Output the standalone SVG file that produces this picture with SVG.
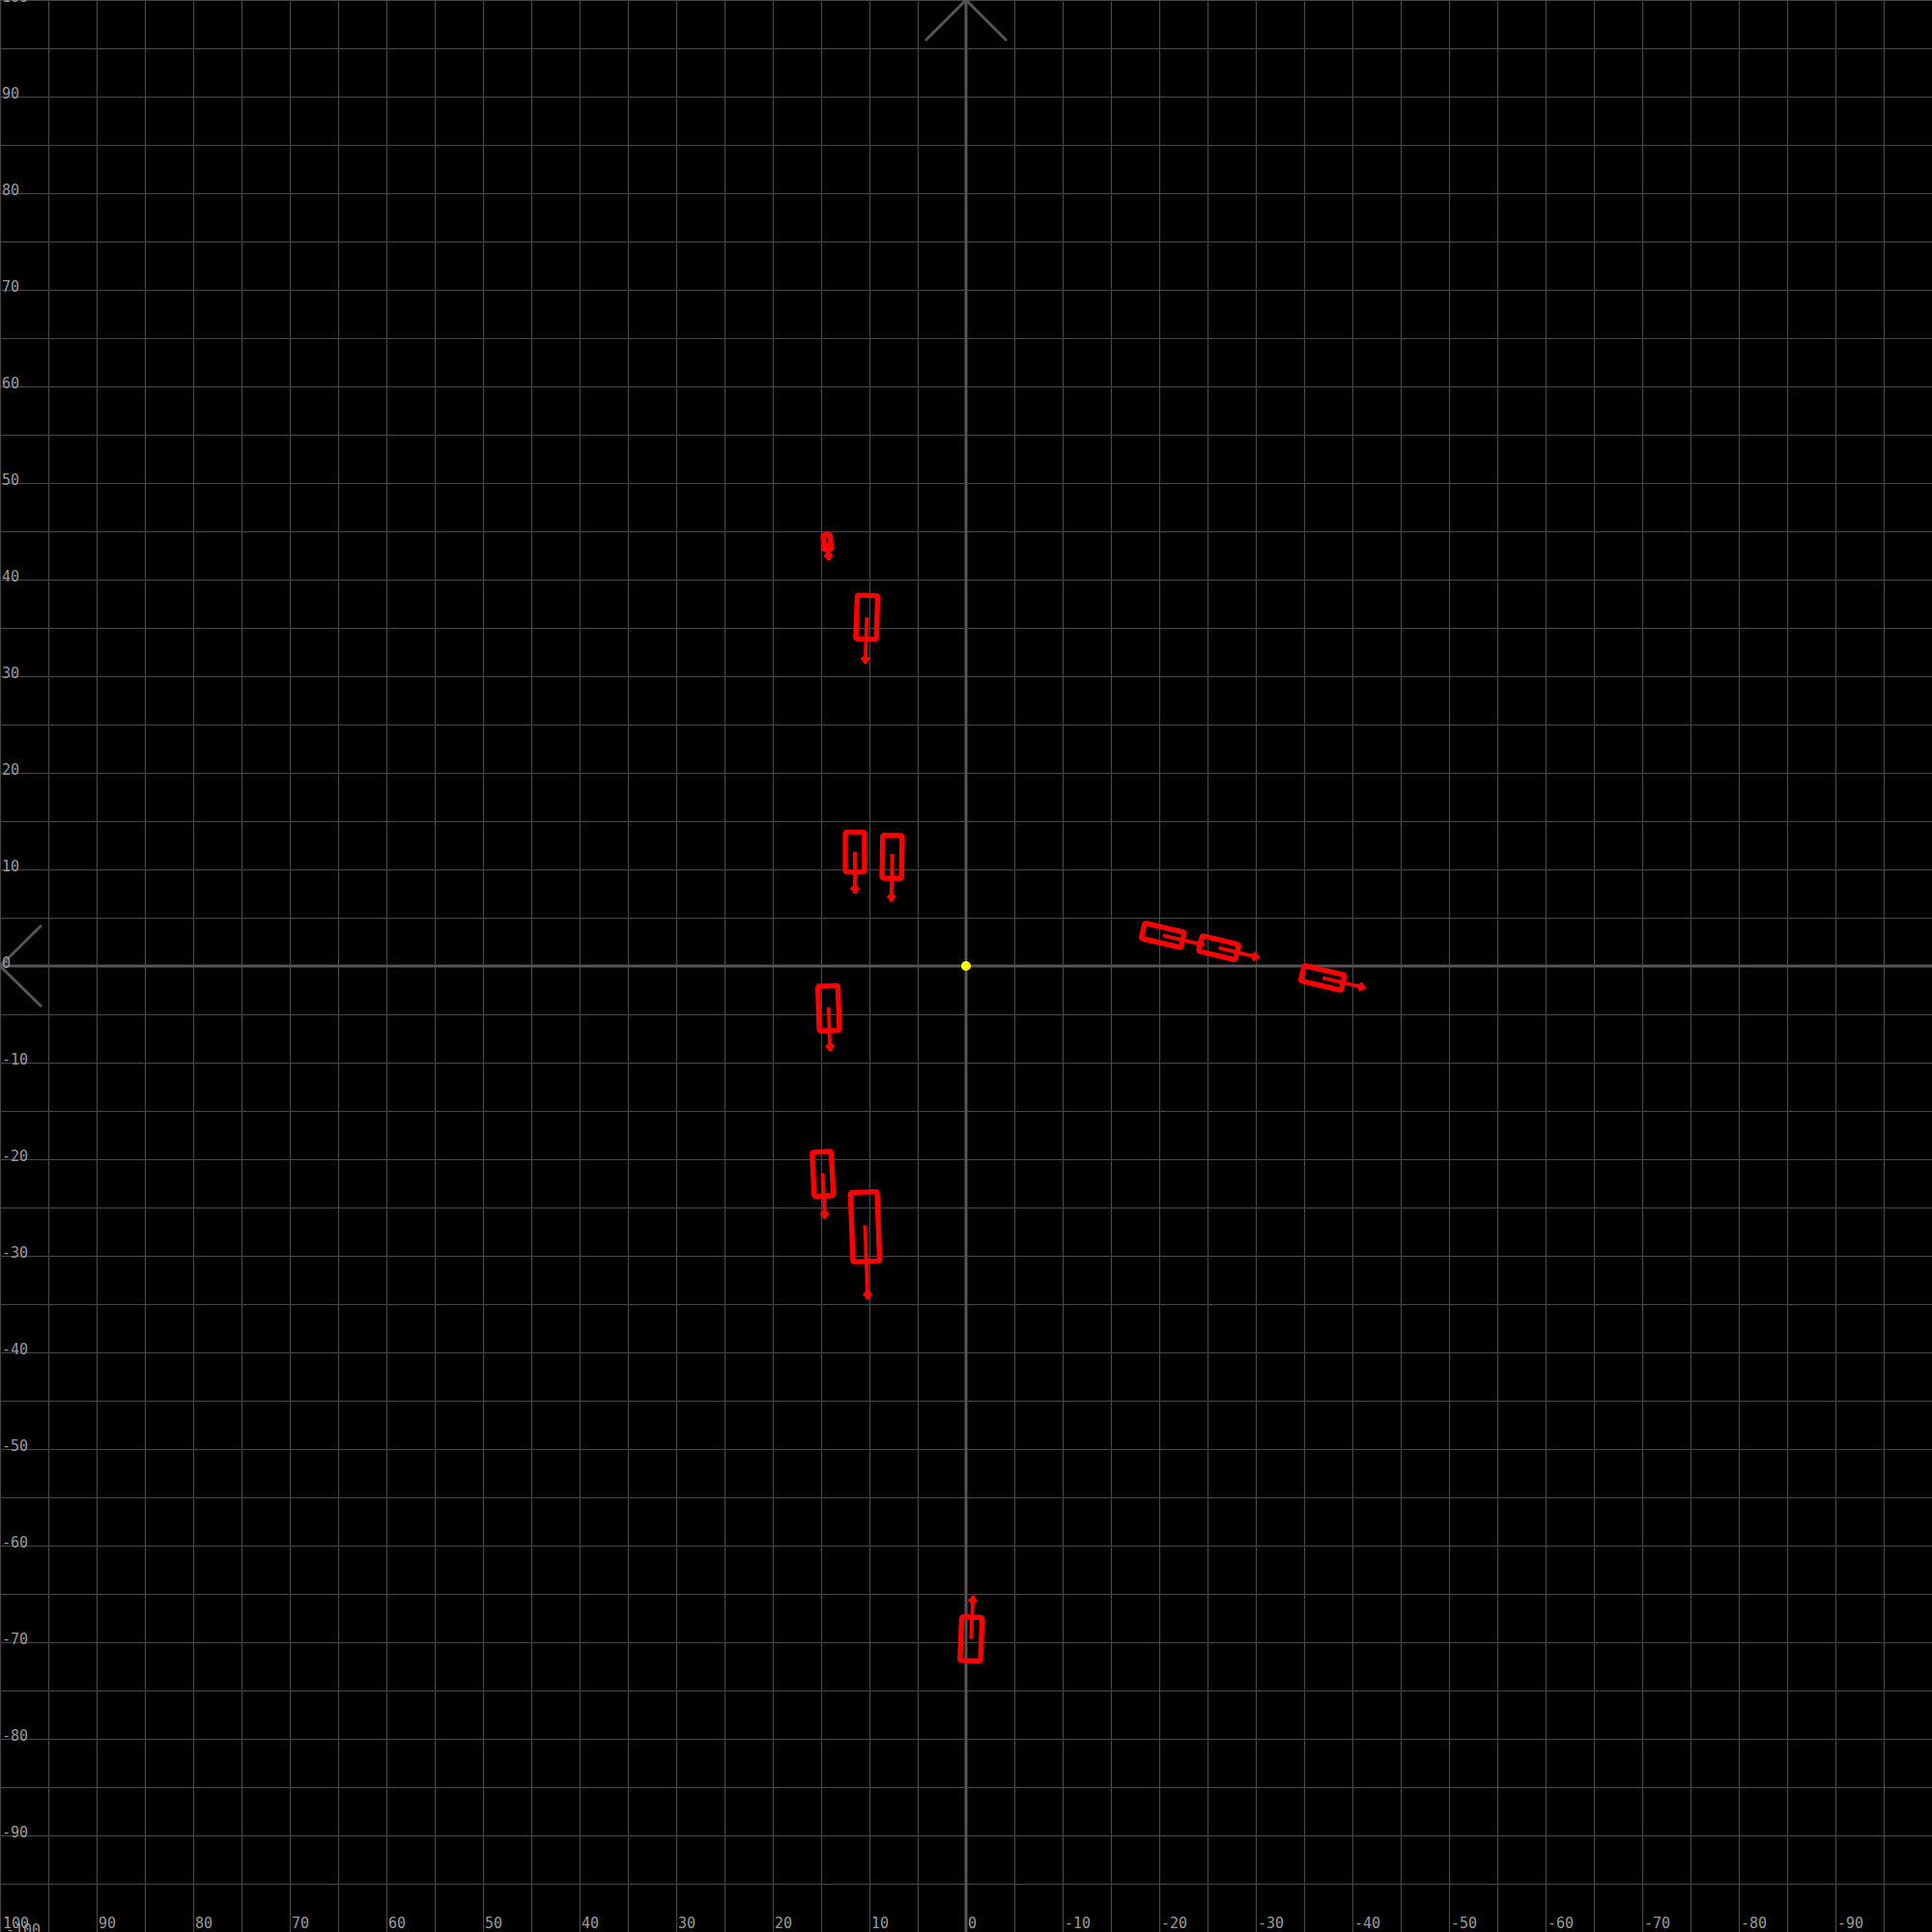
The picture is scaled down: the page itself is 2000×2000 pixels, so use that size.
<svg xmlns="http://www.w3.org/2000/svg" width="2000" height="2000" viewBox="0 0 2000 2000">
<style>
.grid{stroke:#464646;stroke-width:1.2;fill:none}
.axis{stroke:#555;stroke-width:3;fill:none}
.lbl{font-family:"DejaVu Sans Mono","Liberation Mono",monospace;font-size:15px;fill:#9a9a9a}
.box{fill:none;stroke:#f00;stroke-width:5.4;stroke-linejoin:round}
.hd{stroke:#f00;stroke-width:3.8;stroke-linecap:butt;marker-end:url(#dia)}
</style>
<defs>
<marker id="dia" viewBox="-12 -6 13 12" refX="0" refY="0" markerWidth="13" markerHeight="12" markerUnits="userSpaceOnUse" orient="auto">
<path d="M0 0L-5 -5.2L-10 0L-5 5.2Z" fill="#f00"/>
</marker>
</defs>
<rect x="0" y="0" width="2000" height="2000" fill="#000"/>
<g id="grid">
<path class="grid" d="M0.5 0V2000M50.5 0V2000M100.5 0V2000M150.5 0V2000M200.5 0V2000M250.5 0V2000M300.5 0V2000M350.5 0V2000M400.5 0V2000M450.5 0V2000M500.5 0V2000M550.5 0V2000M600.5 0V2000M650.5 0V2000M700.5 0V2000M750.5 0V2000M800.5 0V2000M850.5 0V2000M900.5 0V2000M950.5 0V2000M1050.5 0V2000M1100.5 0V2000M1150.5 0V2000M1200.5 0V2000M1250.5 0V2000M1300.5 0V2000M1350.5 0V2000M1400.5 0V2000M1450.5 0V2000M1500.5 0V2000M1550.5 0V2000M1600.5 0V2000M1650.5 0V2000M1700.5 0V2000M1750.5 0V2000M1800.5 0V2000M1850.5 0V2000M1900.5 0V2000M1950.5 0V2000M0 0.5H2000M0 50.5H2000M0 100.5H2000M0 150.5H2000M0 200.5H2000M0 250.5H2000M0 300.5H2000M0 350.5H2000M0 400.5H2000M0 450.5H2000M0 500.5H2000M0 550.5H2000M0 600.5H2000M0 650.5H2000M0 700.5H2000M0 750.5H2000M0 800.5H2000M0 850.5H2000M0 900.5H2000M0 950.5H2000M0 1050.5H2000M0 1100.5H2000M0 1150.5H2000M0 1200.5H2000M0 1250.5H2000M0 1300.5H2000M0 1350.5H2000M0 1400.5H2000M0 1450.5H2000M0 1500.5H2000M0 1550.5H2000M0 1600.5H2000M0 1650.5H2000M0 1700.5H2000M0 1750.5H2000M0 1800.5H2000M0 1850.5H2000M0 1900.5H2000M0 1950.5H2000"/>
</g>
<g id="axes">
<path class="axis" d="M1000 0V2000M0 1000H2000"/>
<path class="axis" d="M958 42L1000 0L1042 42"/>
<path class="axis" d="M43 958L0 1000L43 1042"/>
</g>
<g id="y-labels" class="lbl">
<text x="2" y="2">100</text>
<text x="2" y="102">90</text>
<text x="2" y="202">80</text>
<text x="2" y="302">70</text>
<text x="2" y="402">60</text>
<text x="2" y="502">50</text>
<text x="2" y="602">40</text>
<text x="2" y="702">30</text>
<text x="2" y="802">20</text>
<text x="2" y="902">10</text>
<text x="2" y="1002">0</text>
<text x="2" y="1102">-10</text>
<text x="2" y="1202">-20</text>
<text x="2" y="1302">-30</text>
<text x="2" y="1402">-40</text>
<text x="2" y="1502">-50</text>
<text x="2" y="1602">-60</text>
<text x="2" y="1702">-70</text>
<text x="2" y="1802">-80</text>
<text x="2" y="1902">-90</text>
<text x="6" y="2003">-100</text>
</g>
<g id="x-labels" class="lbl">
<text x="3" y="1996">100</text>
<text x="102" y="1996">90</text>
<text x="202" y="1996">80</text>
<text x="302" y="1996">70</text>
<text x="402" y="1996">60</text>
<text x="502" y="1996">50</text>
<text x="602" y="1996">40</text>
<text x="702" y="1996">30</text>
<text x="802" y="1996">20</text>
<text x="902" y="1996">10</text>
<text x="1002" y="1996">0</text>
<text x="1102" y="1996">-10</text>
<text x="1202" y="1996">-20</text>
<text x="1302" y="1996">-30</text>
<text x="1402" y="1996">-40</text>
<text x="1502" y="1996">-50</text>
<text x="1602" y="1996">-60</text>
<text x="1702" y="1996">-70</text>
<text x="1802" y="1996">-80</text>
<text x="1902" y="1996">-90</text>
</g>
<circle id="origin" cx="1000" cy="1000" r="5" fill="#ff0"/>
<g id="v1" transform="translate(856.3 561.3) rotate(-5)"><rect class="box" x="-3.7" y="-7.7" width="7.4" height="15.4" rx="1.5"/><line class="hd" x1="0" y1="0" x2="0" y2="19"/></g>
<g id="v2" transform="translate(897.3 639) rotate(2)"><rect class="box" x="-10.6" y="-22.6" width="21.2" height="45.2" rx="1.5"/><line class="hd" x1="0" y1="0" x2="0" y2="48"/></g>
<g id="v3" transform="translate(885 882) rotate(0)"><rect class="box" x="-9.9" y="-20.6" width="19.8" height="41.2" rx="1.5"/><line class="hd" x1="0" y1="0" x2="0" y2="43"/></g>
<g id="v4" transform="translate(923.5 887) rotate(1)"><rect class="box" x="-10.1" y="-22.1" width="20.2" height="44.2" rx="1.5"/><line class="hd" x1="0" y1="-3" x2="0" y2="46.5"/></g>
<g id="v5" transform="translate(1203.8 968.3) rotate(-76.9)"><rect class="box" x="-8.1" y="-21.1" width="16.2" height="42.2" rx="1.5"/><line class="hd" x1="0" y1="0" x2="0" y2="44"/></g>
<g id="v6" transform="translate(1261.7 981.2) rotate(-76.5)"><rect class="box" x="-8.1" y="-19.6" width="16.2" height="39.2" rx="1.5"/><line class="hd" x1="0" y1="0" x2="0" y2="43"/></g>
<g id="v7" transform="translate(1369.3 1012.3) rotate(-76.7)"><rect class="box" x="-8.1" y="-21.6" width="16.2" height="43.2" rx="1.5"/><line class="hd" x1="0" y1="0" x2="0" y2="45.5"/></g>
<g id="v8" transform="translate(857.8 1043.8) rotate(-1.9)"><rect class="box" x="-10.4" y="-23.1" width="20.8" height="46.2" rx="1.5"/><line class="hd" x1="0" y1="-1" x2="0" y2="44.5"/></g>
<g id="v9" transform="translate(851.7 1215.3) rotate(-2.8)"><rect class="box" x="-9.9" y="-22.9" width="19.8" height="45.8" rx="1.5"/><line class="hd" x1="0" y1="-1" x2="0" y2="46.5"/></g>
<g id="v10" transform="translate(895.5 1270) rotate(-2.1)"><rect class="box" x="-13.8" y="-35.9" width="27.6" height="71.8" rx="1.5"/><line class="hd" x1="0" y1="-1.5" x2="0" y2="75"/></g>
<g id="v11" transform="translate(1005.3 1696.7) rotate(-177.5)"><rect class="box" x="-10.6" y="-22.6" width="21.2" height="45.2" rx="1.5"/><line class="hd" x1="0" y1="0" x2="0" y2="45"/></g>
</svg>
